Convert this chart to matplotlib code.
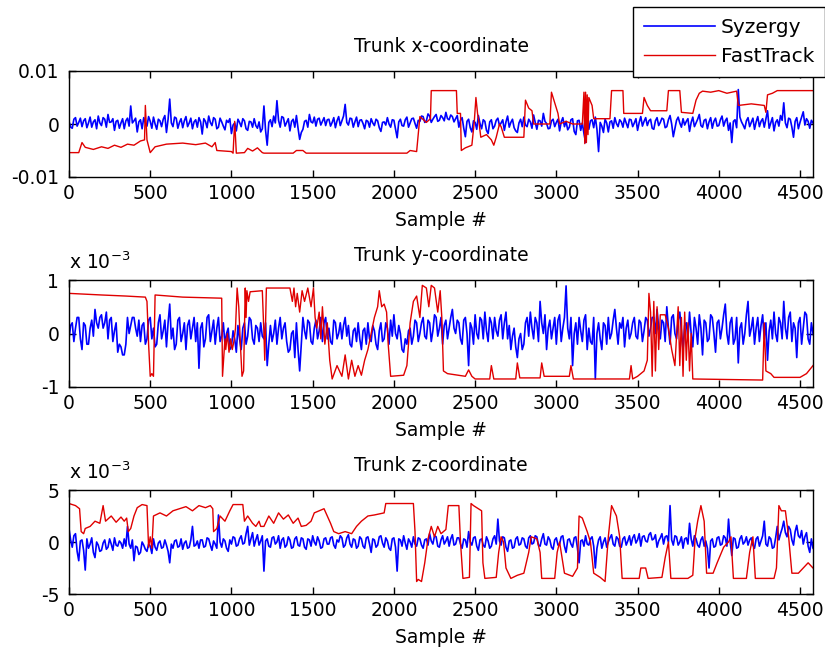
import numpy as np
import matplotlib.pyplot as plt

plt.rcParams['font.family'] = ['DejaVu Sans']

# Syzergy traces were read twice: on samples 0, 20, 40 ... and in between (10, 30, 50 ...)
syz_samples = np.arange(0, 4600, 20)
syz_samples_mid = np.arange(10, 4600, 20)

# Syzergy, trunk x (units 1e-3)
syz_x = [
    0.5, -0.8, 1.2, 0.3, -0.5, 1.0, 0.2, -0.6, 0.8, 1.5,
    -0.3, 0.9, 1.8, 0.4, -1.2, 0.7, 0.2, -0.9, 1.1, 3.4,
    0.6, -1.5, 0.8, 1.2, -0.4, 0.5, 1.3, -1.0, 0.6, 0.9,
    -1.6, 4.7, -0.5, 1.1, 0.3, -0.7, 1.4, 0.2, -0.9, 0.8,
    1.2, -1.9, 0.5, 1.5, -0.3, 0.9, -0.6, 0.4, -1.1, 0.3,
    -1.8, 0.2, 0.9, -0.5, 0.6, -1.2, 0.4, 1.0, -0.8, -1.5,
    3.4, -4.0, 0.8, 1.5, 4.4, -0.6, 1.2, 0.3, -1.3, 0.9,
    1.6, -2.9, -1.0, 0.7, 1.8, 0.2, -0.4, 1.1, 0.5, -0.3,
    0.9, 0.3, -0.7, 1.4, 0.6, 3.7, -0.2, 1.0, 0.4, -0.5,
    0.8, -0.9, 0.5, 1.0, -0.3, 0.6, -1.4, 0.4, 1.2, -0.6,
    0.7, -2.6, 0.9, -0.4, 1.3, 0.2, 1.1, -0.8, 0.5, 1.4,
    0.6, 1.5, 0.9, 1.8, 0.7, 1.2, 2.2, 0.8, 1.4, 1.0,
    -0.6, 1.2, -2.4, 0.9, -1.5, 0.3, 1.6, -0.9, 0.5, -1.8,
    0.8, -0.4, 1.1, 0.2, -1.2, 1.5, 0.3, -0.7, -1.6, 0.9,
    1.3, -0.5, 0.4, 1.7, -1.0, 0.6, 2.0, 0.1, -0.8, 0.9,
    0.3, -1.3, 1.2, 0.5, -0.6, 1.0, -2.0, 0.7, 0.2, -3.5,
    -1.0, 0.8, 1.3, -5.2, -0.4, 0.9, -1.5, 0.6, 1.2, -0.5,
    0.4, 1.1, -0.7, 0.8, 0.2, -1.2, 1.4, 0.5, -0.3, 0.9,
    -1.0, 1.2, 0.3, 0.9, -0.5, 1.6, -2.4, 0.7, 0.2, 1.0,
    0.5, -1.4, 1.3, 0.2, 1.8, -0.6, 0.9, 0.4, -0.8, 1.1,
    -0.3, 1.5, 0.6, -1.2, -3.5, 0.8, 6.5, 0.4, -0.9, 1.2,
    0.3, -1.0, 1.4, 0.5, -0.6, 2.5, 0.2, -1.3, 0.8, 1.6,
    4.0, -0.7, 0.9, -2.5, 1.2, 0.3, 2.3, 1.0, -0.8, 0.2,
]
syz_x_mid = [
    -0.6, 0.9, -0.4, 1.1, 0.6, -0.7, 1.3, 0.4, -0.9, 0.2,
    1.2, -0.6, 0.3, 1.0, 0.5, -0.8, 1.0, 0.6, -0.4, 0.2,
    1.1, 0.4, -0.9, 0.2, 1.4, -0.8, 0.0, 0.9, -0.5, 1.6,
    0.9, 0.2, 1.3, -0.8, 1.0, 0.6, -0.5, 1.1, 0.4, -0.6,
    0.4, 1.0, -0.7, 0.3, 1.2, -0.9, 1.1, -0.4, 0.7, 1.0,
    -0.2, -1.3, 0.3, 1.0, -0.9, 0.5, -0.6, -0.3, 0.4, -0.9,
    -1.2, 0.3, -0.5, 0.2, 0.7, 1.4, -0.4, 1.0, 0.5, -0.6,
    -0.8, -1.6, 0.5, -0.6, 0.4, 1.3, 0.9, -0.2, 1.2, 0.8,
    -0.4, 1.2, 0.6, -0.3, 1.5, 0.3, 1.1, -0.6, 1.3, 0.7,
    0.1, 0.7, -0.6, 0.2, 0.9, -0.7, 0.3, -0.2, 0.0, 0.8,
    -0.9, 0.4, -0.3, 0.8, -0.6, 1.0, 0.1, 0.7, 1.5, 0.3,
    1.9, 0.3, 1.4, 0.5, 1.6, 0.6, 1.0, 1.7, 0.4, 1.6,
    0.7, -0.8, 0.5, -0.7, 0.6, -1.0, 0.1, 0.8, -1.2, 0.4,
    -0.9, 0.7, -0.3, 0.8, 0.4, -0.6, 0.9, -1.3, 0.2, -0.5,
    -0.2, 0.9, -0.8, 0.3, 0.7, -0.4, 0.5, -0.9, 0.6, -0.5,
    0.9, 0.4, -0.5, -1.1, 0.8, -1.4, 0.6, -1.2, -1.8, 0.4,
    0.6, -0.7, -1.0, 0.3, -1.6, 0.2, 0.4, -0.8, 0.1, 0.8,
    -0.6, 0.2, 0.9, -0.5, 1.0, 0.3, -0.4, 1.2, 0.6, -0.8,
    0.6, -0.3, 1.1, -0.7, 0.8, 0.0, -0.8, 1.3, -0.6, -0.2,
    1.0, 0.3, -0.5, 0.9, -0.3, 0.7, -0.9, 1.2, 0.5, -0.4,
    0.8, -0.4, 1.1, 0.2, 0.5, -0.7, 1.3, -0.2, 0.6, -0.5,
    1.1, 0.4, -0.5, 1.0, 0.9, -0.8, 1.2, 0.3, -0.4, 0.7,
    0.2, 1.1, -0.6, 0.5, -0.9, 1.3, -0.2, 0.5, 0.7, -0.3,
]

# Syzergy, trunk y (units 1e-3)
syz_y = [
    -0.1, 0.2, 0.1, 0.3, -0.3, 0.15, -0.2, 0.25, 0.45, 0.1,
    0.35, 0.2, -0.1, 0.3, 0.05, -0.35, -0.25, -0.4, 0.3, 0.15,
    0.3, -0.05, -0.15, 0.2, -0.1, 0.3, 0.1, -0.2, 0.35, 0.05,
    -0.25, 0.55, 0.1, -0.2, 0.3, 0.0, -0.3, 0.25, 0.1, -0.15,
    -0.65, 0.2, -0.1, 0.35, 0.05, -0.2, 0.3, -0.05, -0.2, 0.1,
    -0.25, -0.1, 0.15, -0.3, 0.2, -0.05, 0.25, -0.2, 0.1, 0.2,
    -0.1, -0.6, 0.15, 0.0, -0.2, 0.3, 0.1, -0.15, -0.3, 0.05,
    0.2, -0.7, 0.3, -0.1, 0.2, -0.2, 0.25, 0.05, -0.15, 0.3,
    0.1, -0.2, 0.2, 0.0, -0.1, 0.3, 0.15, -0.25, 0.1, 0.2,
    -0.3, 0.1, 0.2, -0.15, 0.05, -0.3, 0.2, -0.1, 0.1, 0.25,
    0.35, -0.1, 0.0, -0.35, -0.2, 0.1, -0.05, 0.2, 0.0, 0.3,
    -0.1, 0.2, 0.05, 0.3, 0.1, -0.2, 0.25, 0.1, 0.45, 0.0,
    0.2, -0.2, 0.3, -0.6, 0.1, 0.35, -0.1, 0.25, 0.4, -0.15,
    0.2, 0.3, -0.05, 0.35, 0.2, -0.1, -0.3, 0.1, -0.45, 0.0,
    -0.2, 0.3, 0.4, -0.1, 0.2, 0.6, 0.0, -0.3, 0.25, 0.1,
    -0.2, 0.35, 0.1, 0.89, -0.1, -0.6, 0.2, 0.3, -0.15, 0.35,
    0.1, -0.2, -0.85, 0.2, -0.3, 0.15, 0.3, 0.0, 0.45, -0.2,
    0.1, -0.25, 0.25, 0.0, 0.3, -0.1, 0.2, 0.05, 0.25, 0.1,
    0.3, 0.45, -0.1, 0.2, 0.5, -0.2, 0.35, -0.1, 0.4, -0.3,
    0.2, 0.4, -0.25, 0.1, 0.35, -0.4, 0.2, -0.1, 0.3, -0.35,
    0.25, 0.1, 0.55, -0.2, 0.3, -0.1, -0.55, 0.2, 0.0, 0.6,
    0.1, -0.2, 0.3, 0.15, -0.1, -0.5, 0.25, 0.4, -0.15, 0.2,
    0.6, -0.1, 0.4, 0.2, -0.45, 0.3, 0.1, 0.35, -0.2, 0.0,
]
syz_y_mid = [
    0.15, -0.15, 0.3, -0.1, 0.2, -0.2, 0.1, -0.05, 0.2, 0.3,
    0.1, 0.4, 0.25, -0.15, 0.2, -0.2, -0.4, -0.2, 0.0, 0.3,
    0.1, 0.25, 0.15, -0.2, 0.25, -0.1, -0.25, 0.2, -0.1, 0.25,
    0.2, -0.1, -0.3, 0.25, -0.15, 0.2, 0.15, -0.1, 0.3, 0.2,
    0.1, -0.25, 0.3, -0.15, 0.25, 0.1, -0.15, 0.2, 0.0, -0.3,
    0.05, -0.35, -0.1, 0.1, -0.2, 0.3, -0.1, 0.15, -0.15, -0.05,
    0.2, -0.2, -0.15, 0.25, 0.1, -0.1, 0.2, -0.35, 0.0, -0.45,
    -0.3, -0.2, 0.05, 0.25, -0.15, 0.1, -0.1, 0.3, 0.2, -0.1,
    -0.15, 0.25, -0.1, 0.2, 0.15, -0.05, -0.2, 0.05, -0.15, -0.1,
    0.05, -0.2, -0.1, 0.15, -0.2, 0.05, -0.15, 0.2, -0.2, -0.05,
    0.0, 0.15, -0.3, -0.1, 0.05, -0.2, 0.25, -0.15, 0.2, -0.05,
    0.25, -0.15, 0.35, -0.05, 0.3, 0.15, -0.1, 0.3, 0.1, 0.25,
    -0.1, 0.25, 0.0, 0.2, -0.2, 0.0, 0.3, -0.1, 0.05, 0.3,
    -0.1, 0.05, 0.25, -0.1, 0.4, 0.15, -0.05, -0.25, -0.1, -0.3,
    0.2, -0.05, 0.1, 0.3, -0.15, 0.2, 0.35, 0.1, -0.1, 0.3,
    0.25, -0.15, 0.3, 0.1, 0.3, 0.0, -0.2, 0.05, 0.25, -0.3,
    -0.15, 0.3, 0.0, -0.1, 0.2, -0.2, -0.1, 0.25, 0.1, 0.2,
    0.3, 0.1, -0.1, 0.2, -0.05, 0.25, -0.15, 0.3, -0.05, 0.3,
    0.0, 0.1, 0.25, -0.15, 0.1, 0.3, 0.0, 0.25, 0.05, 0.15,
    -0.1, 0.0, 0.3, -0.2, 0.1, 0.25, -0.15, 0.35, 0.0, 0.2,
    -0.1, 0.35, 0.0, 0.2, -0.2, 0.3, 0.1, -0.2, 0.35, -0.05,
    0.3, 0.1, -0.15, 0.35, 0.2, 0.05, -0.1, 0.0, 0.3, -0.1,
    0.1, 0.3, -0.15, 0.1, 0.2, -0.2, 0.4, -0.1, 0.2, -0.1,
]

# Syzergy, trunk z (units 1e-3)
syz_z = [
    1.3, -0.5, 0.8, -1.8, 0.2, -2.7, -0.6, 0.4, -1.5, -0.3,
    -0.8, 0.2, -0.5, -0.2, 0.4, -0.4, -0.1, 0.3, 1.5, -0.6,
    -1.8, -0.5, -1.0, -0.3, -0.9, -0.4, 0.3, -0.8, 0.1, -0.5,
    -0.3, -2.0, -0.6, 0.2, -0.4, -0.7, 0.1, -0.5, 1.5, -0.3,
    -0.6, 0.2, -0.4, 0.3, -0.8, -0.2, 2.6, -0.5, 0.1, -0.9,
    -0.2, 0.4, -0.3, 0.6, -0.1, 1.5, 0.3, -0.4, 0.7, 0.1,
    -2.8, 0.3, -0.5, 0.5, 0.0, -0.6, 0.4, -0.3, 0.2, -0.5,
    0.5, -0.4, 0.3, -0.7, 0.2, 0.6, -0.3, 0.1, -0.5, 0.4,
    -0.2, 0.5, -0.6, 0.0, 0.4, -0.3, 0.7, -0.5, 0.2, -0.4,
    0.3, -0.6, 0.5, -1.0, 0.2, -0.3, 0.6, -0.5, 0.1, -0.8,
    0.4, -2.8, 0.2, 0.6, -0.7, 0.0, 0.5, -0.4, 0.3, -0.6,
    0.3, 0.8, -0.2, 0.5, -0.5, 0.6, 0.1, -0.4, 0.7, -0.2,
    0.4, -0.6, 0.2, 1.0, -0.3, 0.5, -0.8, 0.3, -0.5, 0.1,
    -0.4, 0.6, 2.2, -0.3, 0.4, -0.9, 0.2, -0.5, 0.5, -0.2,
    0.3, -0.6, 0.6, -0.1, 0.5, -0.4, 0.8, -0.3, 0.2, -0.7,
    0.4, -0.2, 0.6, -1.0, 0.3, -0.5, 0.5, -2.0, 0.2, 0.6,
    -0.3, 0.5, -2.5, 0.2, -0.6, 0.4, 0.0, 0.7, -0.4, 0.3,
    -0.5, 0.5, 0.1, -0.3, 0.7, 0.2, -0.4, 0.6, 0.0, 0.9,
    0.3, -0.5, 0.4, -0.2, 0.6, 3.5, -0.3, 0.5, 0.0, -0.6,
    0.4, 1.8, -0.4, 0.3, -0.5, 0.5, 0.1, -2.5, 0.3, -0.4,
    0.5, -0.2, 0.4, 2.2, -1.3, 0.3, -0.5, 0.6, 0.0, -0.3,
    0.4, -0.6, 0.5, 0.1, 2.0, -0.4, 0.3, -0.5, 1.5, 0.8,
    2.0, 0.5, 1.2, -0.3, 1.6, 0.4, -0.2, 0.9, -1.0, -0.6,
]
syz_z_mid = [
    0.2, 0.6, -0.9, 0.1, -0.8, 0.3, -0.2, -1.0, 0.0, -0.9,
    -0.1, -0.7, 0.3, -0.8, -0.3, 0.1, -0.6, -0.4, -0.2, 0.2,
    -0.4, -1.2, 0.0, -0.7, -0.2, -1.1, -0.5, -0.1, -0.6, 0.2,
    -0.9, -0.2, 0.1, -0.5, 0.3, -0.1, -0.6, 0.2, -0.4, 0.1,
    0.2, -0.5, 0.4, -0.3, 0.1, -0.6, 0.0, 0.3, -0.6, 0.2,
    0.5, -0.4, 0.3, -0.2, 0.8, -0.3, 0.9, 0.2, -0.3, 0.6,
    0.1, -0.4, 0.4, -0.2, 0.6, 0.2, -0.5, 0.5, -0.6, 0.3,
    -0.3, 0.4, -0.5, 0.3, -0.4, 0.0, 0.5, -0.6, 0.3, -0.2,
    0.4, -0.3, 0.2, 0.6, -0.5, 0.4, -0.2, 0.3, -0.6, 0.5,
    -0.4, 0.4, -0.2, 0.3, -0.5, 0.5, -0.1, 0.4, -0.6, 0.3,
    -0.5, 0.3, -0.4, -0.1, 0.3, -0.5, -0.2, 0.4, -0.3, 0.2,
    -0.3, 0.1, 0.6, -0.4, 0.2, -0.2, 0.5, 0.3, -0.3, 0.4,
    -0.2, 0.3, -0.5, 0.0, 0.4, -0.4, 0.2, -0.3, 0.5, -0.6,
    0.3, -0.2, 0.1, 0.5, -0.5, 0.1, -0.6, 0.3, -0.3, 0.4,
    -0.4, 0.4, -0.2, 0.6, -0.3, 0.3, -0.2, 0.5, -0.5, 0.2,
    -0.3, 0.5, -0.4, 0.2, -0.2, 0.4, -0.6, 0.1, -0.4, -0.2,
    0.3, -0.4, -0.6, 0.5, 0.0, -0.5, 0.4, -0.2, 0.5, -0.4,
    0.3, -0.3, 0.6, 0.4, -0.1, 0.8, 0.5, 0.1, 0.7, 0.2,
    0.7, 0.1, 0.8, 0.5, 0.0, 0.2, 0.6, -0.3, 0.5, 0.3,
    -0.2, 0.3, 0.6, -0.3, 0.2, -0.4, -0.6, 0.1, -0.5, 0.4,
    -0.3, 0.6, -0.4, 0.1, 0.4, -0.6, 0.3, -0.2, 0.5, 0.2,
    -0.3, 0.3, -0.4, 0.6, -0.2, 0.5, -0.6, 0.4, 0.2, 1.3,
    0.9, 1.5, 0.2, 1.0, 0.6, 1.1, 0.5, -0.4, 0.3, -0.8,
]

# FastTrack, read as (sample, value) breakpoints, units 1e-3
ft_x_s = [0, 60, 80, 100, 150, 200, 240, 280, 320, 360, 400, 440, 465, 470, 480, 500, 530, 600,
          700, 780, 840, 880, 900, 910, 1000, 1010, 1020, 1030, 1080, 1100, 1130, 1160, 1190,
          1200, 1380, 1400, 1440, 1460, 2080, 2100, 2140, 2160, 2200, 2225, 2230, 2385, 2390,
          2410, 2415, 2440, 2480, 2495, 2505, 2515, 2525, 2535, 2570, 2600, 2615, 2630, 2650,
          2660, 2680, 2800, 2810, 2830, 2850, 2860, 2960, 2970, 2990, 3010, 3020, 3060, 3100,
          3160, 3170, 3175, 3180, 3185, 3190, 3195, 3200, 3220, 3230, 3330, 3340, 3410, 3415,
          3530, 3540, 3560, 3580, 3680, 3690, 3760, 3770, 3840, 3860, 3880, 3900, 3950, 4000,
          4050, 4110, 4120, 4200, 4280, 4290, 4300, 4330, 4360, 4580]
ft_x_v = [-5.4, -5.4, -3.5, -4.4, -4.8, -4.3, -4.6, -4.0, -4.4, -3.8, -4.0, -3.2, -3.0, 3.5, -3.0,
          -5.4, -4.3, -3.8, -3.6, -3.9, -3.6, -4.3, -3.5, -5.0, -5.2, -5.5, 0.5, -5.5, -5.4,
          -4.6, -5.1, -4.5, -5.4, -5.5, -5.5, -5.0, -5.0, -5.5, -5.5, -5.0, -5.2, 1.4, 0.3, 1.0,
          6.3, 6.3, 2.0, 2.0, -5.0, -4.5, -4.0, 0.5, 5.0, 2.0, 0.0, -2.5, -2.0, -3.0, -4.0,
          -2.5, 0.0, -0.5, -2.5, -2.5, 4.5, 3.0, 2.5, 0.0, 0.0, 6.0, 4.0, 2.0, 0.0, 0.5, 0.0,
          0.0, 6.0, -3.7, 6.0, -3.5, 5.5, -2.0, 5.0, 3.5, 1.0, 1.0, 6.3, 6.3, 2.0, 2.0, 5.0,
          3.5, 2.5, 2.5, 6.3, 6.3, 2.2, 2.0, 4.5, 5.8, 6.2, 6.0, 6.3, 5.8, 6.2, 3.5, 3.8, 3.5,
          2.2, 5.5, 5.8, 6.3, 6.3]

ft_y_s = [0, 200, 350, 470, 480, 490, 500, 510, 520, 530, 700, 940, 945, 960, 965, 975, 985, 995,
          1005, 1015, 1025, 1035, 1045, 1055, 1065, 1075, 1085, 1090, 1095, 1105, 1115, 1190,
          1200, 1205, 1215, 1360, 1375, 1385, 1395, 1405, 1420, 1435, 1450, 1470, 1490, 1505,
          1515, 1525, 1540, 1550, 1560, 1575, 1590, 1605, 1620, 1650, 1680, 1700, 1720, 1740,
          1760, 1780, 1800, 1820, 1840, 1860, 1880, 1900, 1910, 1925, 1940, 1955, 1965, 1980,
          2060, 2080, 2100, 2120, 2140, 2160, 2175, 2200, 2215, 2230, 2250, 2270, 2285, 2295,
          2305, 2330, 2440, 2460, 2480, 2500, 2590, 2600, 2615, 2750, 2760, 2775, 2900, 2910,
          2925, 3080, 3090, 3105, 3450, 3460, 3470, 3500, 3540, 3560, 3570, 3580, 3590, 3600,
          3610, 3620, 3630, 3640, 3670, 3690, 3710, 3730, 3750, 3760, 3770, 3780, 3790, 3800,
          3810, 3820, 3830, 3840, 4270, 4280, 4290, 4320, 4340, 4500, 4540, 4580]
ft_y_v = [0.75, 0.72, 0.7, 0.68, 0.6, -0.2, -0.8, -0.75, -0.8, 0.72, 0.68, 0.66, -0.8, -0.1, -0.3,
          0.0, -0.35, -0.1, -0.3, -0.15, 0.1, 0.85, 0.5, -0.2, -0.8, -0.7, 0.85, 0.3, 0.8, 0.6,
          0.78, 0.8, 0.0, -0.5, 0.85, 0.85, 0.6, 0.85, 0.5, 0.75, 0.4, 0.8, 0.6, 0.85, 0.5,
          0.85, 0.3, 0.1, 0.4, -0.1, 0.5, -0.2, 0.2, -0.5, -0.85, -0.6, -0.8, -0.4, -0.85, -0.5,
          -0.8, -0.6, -0.78, -0.5, -0.3, 0.0, 0.3, 0.5, 0.8, 0.5, 0.55, 0.4, -0.2, -0.8, -0.78,
          -0.6, 0.2, 0.6, 0.7, 0.3, 0.9, 0.85, 0.5, 0.9, 0.85, 0.4, 0.8, 0.3, -0.7, -0.75, -0.8,
          -0.68, -0.8, -0.85, -0.85, -0.6, -0.85, -0.85, -0.55, -0.83, -0.83, -0.55, -0.8, -0.8,
          -0.6, -0.85, -0.85, -0.6, -0.85, -0.8, -0.7, -0.5, 0.75, 0.4, -0.8, 0.6, -0.7, 0.5,
          -0.3, 0.35, 0.35, 0.1, -0.3, -0.6, 0.5, -0.6, 0.3, -0.8, 0.4, -0.5, 0.2, -0.7, 0.0,
          -0.85, -0.87, 0.2, -0.7, -0.75, -0.82, -0.82, -0.75, -0.6]

ft_z_s = [0, 40, 65, 75, 90, 100, 130, 160, 190, 210, 225, 260, 290, 320, 340, 355, 365, 380, 400,
          420, 450, 480, 490, 500, 510, 520, 560, 600, 640, 680, 720, 760, 800, 840, 870, 885,
          890, 910, 930, 960, 990, 1010, 1070, 1080, 1100, 1130, 1150, 1170, 1180, 1200, 1230,
          1260, 1290, 1320, 1350, 1380, 1410, 1430, 1460, 1490, 1510, 1540, 1570, 1590, 1610,
          1630, 1660, 1700, 1740, 1770, 1800, 1840, 1880, 1940, 1950, 2120, 2130, 2140, 2150,
          2170, 2190, 2210, 2230, 2250, 2270, 2290, 2320, 2335, 2400, 2410, 2425, 2465, 2475,
          2490, 2540, 2548, 2560, 2630, 2645, 2660, 2675, 2690, 2720, 2760, 2800, 2830, 2845,
          2880, 2900, 2910, 2990, 3005, 3020, 3035, 3050, 3100, 3130, 3140, 3160, 3190, 3210,
          3230, 3270, 3300, 3320, 3340, 3355, 3370, 3390, 3405, 3510, 3520, 3550, 3565, 3650,
          3670, 3690, 3705, 3810, 3840, 3855, 3870, 3890, 3910, 3925, 3965, 3990, 4030, 4060,
          4075, 4090, 4170, 4190, 4210, 4225, 4340, 4355, 4370, 4385, 4410, 4430, 4450, 4490,
          4520, 4550, 4580]
ft_z_v = [3.7, 3.5, 3.2, 1.0, 0.8, 1.3, 1.5, 2.0, 1.8, 3.5, 2.0, 2.5, 1.9, 2.4, 2.0, 2.3, 1.0, 1.3,
          2.5, 3.3, 3.6, 3.5, -0.5, 0.5, -0.6, 2.5, 2.8, 2.5, 3.0, 3.2, 3.4, 3.0, 3.5, 3.3, 3.5,
          3.2, 1.0, 1.3, 2.5, 2.0, 3.0, 3.6, 3.6, 2.0, 2.5, 1.8, 1.5, 2.0, 1.5, 1.5, 2.5, 1.8,
          2.8, 2.2, 2.6, 1.8, 2.3, 1.5, 1.6, 2.0, 2.8, 3.0, 3.2, 2.5, 1.8, 1.0, 0.8, 1.0, 0.8,
          1.5, 2.0, 2.5, 2.6, 2.8, 3.7, 3.7, 1.0, -3.8, -3.6, -3.8, -2.0, 0.3, 1.5, 0.5, 1.5,
          0.8, 1.2, 3.5, 3.5, 0.0, -3.5, -3.4, 3.7, 3.5, 3.0, -2.0, -3.5, -3.4, -1.0, 0.5, 0.0,
          -2.5, -3.5, -3.2, -3.0, -1.0, 0.5, 0.3, -1.0, -3.5, -3.5, -1.0, 0.0, -1.5, -3.0, -3.3,
          -2.5, 2.5, 2.3, 1.0, 0.0, -3.0, -3.4, -3.8, 0.5, 3.5, 3.0, 2.5, 0.5, -3.5, -3.5, -2.5,
          -2.5, -3.5, -3.4, -1.5, 0.0, -3.5, -3.5, -3.2, 0.5, 2.0, 3.5, 2.0, -3.0, -3.0, -2.0,
          -0.5, 0.0, 0.5, -3.5, -3.5, -1.0, 0.5, -3.5, -3.5, -2.5, 3.5, 3.0, 3.0, 0.5, -3.0,
          -3.0, -2.5, -2.0, -2.5]

titles = ['Trunk x-coordinate', 'Trunk y-coordinate', 'Trunk z-coordinate']
yticklabels = [['-0.01', '0', '0.01'], ['-1', '0', '1'], ['-5', '0', '5']]
ylims = [(-0.01, 0.01), (-1, 1), (-5, 5)]
xticks = [0, 500, 1000, 1500, 2000, 2500, 3000, 3500, 4000, 4500]
scales = [1e-3, 1, 1]  # top panel is drawn in plain units, the others in 1e-3


def merge(main, mid):
    s = np.concatenate([syz_samples, syz_samples_mid])
    v = np.concatenate([main, mid])
    order = np.argsort(s)
    return s[order], v[order]


syz_all = [merge(syz_x, syz_x_mid), merge(syz_y, syz_y_mid), merge(syz_z, syz_z_mid)]
ft_all = [(ft_x_s, ft_x_v), (ft_y_s, ft_y_v), (ft_z_s, ft_z_v)]

W, H = 825, 654
fig = plt.figure(figsize=(W / 100, H / 100), dpi=100)
boxes = [(71, 177), (280, 387), (490, 594)]  # top/bottom of each axes in pixels
fs = 13.5

for i, (top, bot) in enumerate(boxes):
    ax = fig.add_axes([69 / W, 1 - bot / H, (813 - 69) / W, (bot - top) / H])
    sx, sv = syz_all[i]
    fx, fv = ft_all[i]
    h1, = ax.plot(sx, sv * scales[i], color='#0000ff', lw=1.2)
    h2, = ax.plot(fx, np.array(fv) * scales[i], color='#e00000', lw=1.0)
    lo, hi = ylims[i]
    ax.set_ylim(lo, hi)
    ax.set_xlim(0, 4580)
    ax.set_yticks([lo, 0, hi])
    ax.set_yticklabels(yticklabels[i])
    ax.set_xticks(xticks)
    ax.tick_params(direction='in', length=5, width=1, top=True, right=True,
                   labelsize=fs)
    ax.tick_params(axis='y', pad=7)
    ax.tick_params(axis='x', pad=5)
    for sp in ax.spines.values():
        sp.set_linewidth(1.0)
    ax.set_title(titles[i], fontsize=fs, pad=14)
    ax.set_xlabel('Sample #', fontsize=fs, labelpad=6)
    if i > 0:
        ax.text(0, 1 + 11 / (bot - top), r'x 10$^{-3}$', transform=ax.transAxes,
                fontsize=fs, ha='left', va='baseline')

fig.legend([h1, h2], ['Syzergy', 'FastTrack'], loc='upper right',
           bbox_to_anchor=(1.0, 1 - 7 / H), fontsize=14.5, frameon=True,
           fancybox=False, edgecolor='black', framealpha=1, handlelength=3.5,
           borderpad=0.55, labelspacing=0.5, handletextpad=0.3, borderaxespad=0)

fig.savefig('out.png', dpi=100)
